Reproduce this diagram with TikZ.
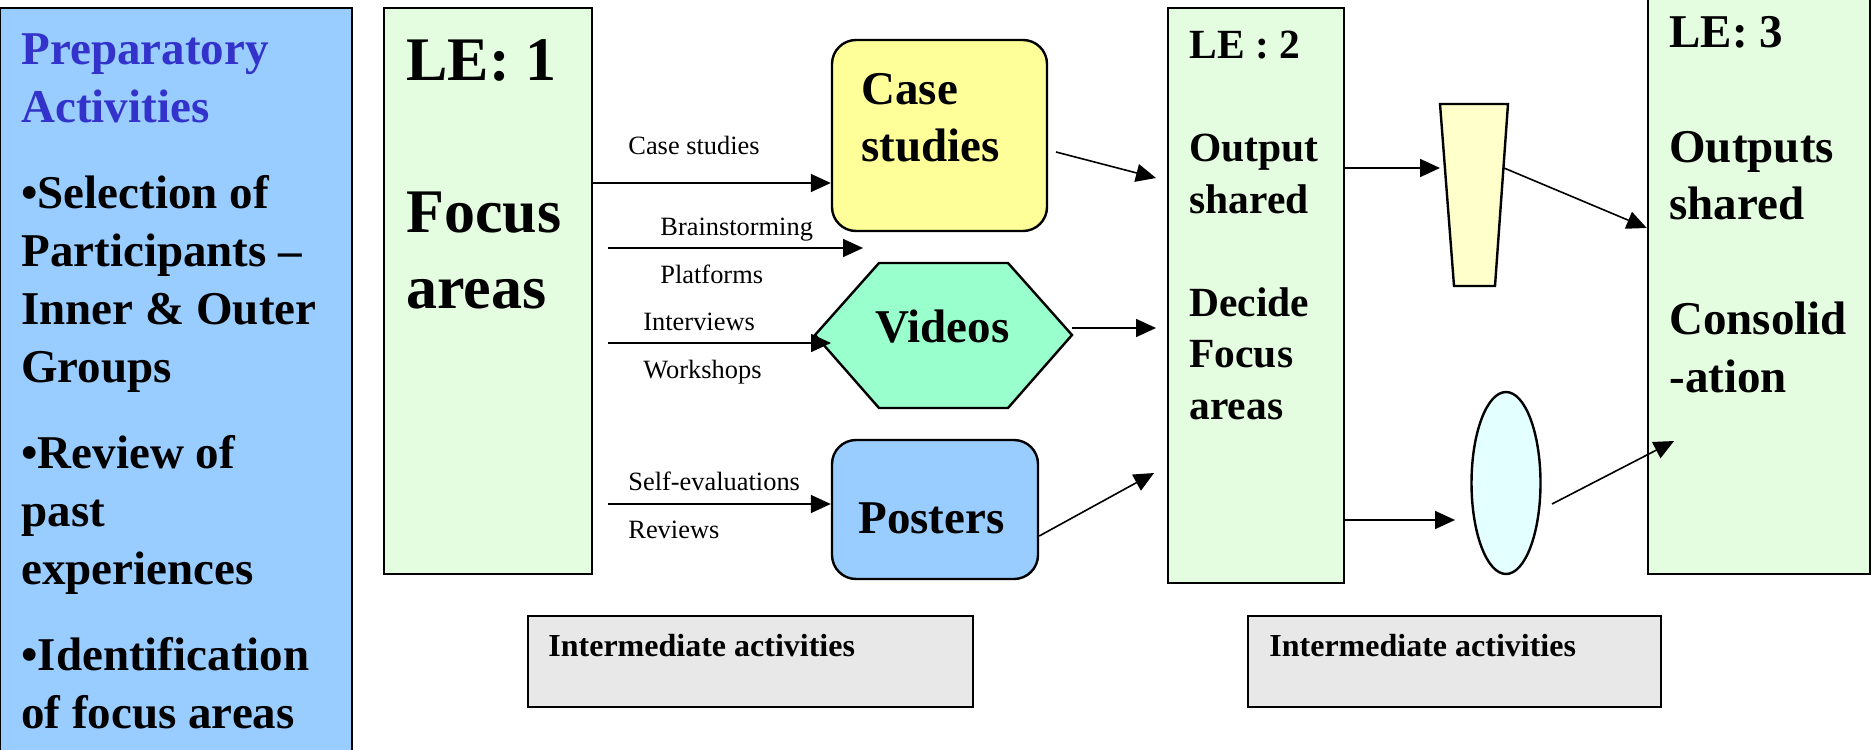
\documentclass[tikz,border=0pt]{standalone}
\usepackage{fontspec}
\setmainfont{Liberation Serif}
\usepackage{tikz}
\usetikzlibrary{arrows.meta,shapes.geometric,fit}

\definecolor{prepblue}{HTML}{99CCFF}
\definecolor{headblue}{HTML}{3333CC}
\definecolor{legreen}{RGB}{228,252,224}
\definecolor{caseyellow}{HTML}{FFFF99}
\definecolor{vidgreen}{HTML}{99FFCC}
\definecolor{trapyellow}{HTML}{FFFFCC}
\definecolor{ovalcyan}{HTML}{E3FFFF}
\definecolor{midgray}{HTML}{E8E8E8}

\tikzset{
  box/.style={draw,line width=1.2pt,inner sep=0pt},
  flow/.style={-{Triangle[length=10pt,width=9pt]},line width=0.8pt},
  txt/.style={anchor=base west,align=left,inner sep=0pt},
  lbl/.style={anchor=base west,inner sep=0pt,font=\fontsize{13.2}{15}\selectfont}
}

\begin{document}
\begin{tikzpicture}[x=0.5pt,y=-0.5pt]
        \useasboundingbox (0,0) rectangle (1872,749);
        % boxes
        \node[box,fill=prepblue,fit={(0,8) (352,760)}] (prep) {};
        \node[box,fill=legreen,fit={(384,8) (592,574)}] (le1) {};
        \node[box,fill=legreen,fit={(1168,8) (1344,583)}] (le2) {};
        \node[box,fill=legreen,fit={(1648,-5) (1870,574)}] (le3) {};
        \node[box,fill=caseyellow,rounded corners=12pt,fit={(832,40) (1047,231)}] (cs) {};
        \node[box,fill=prepblue,rounded corners=12pt,fit={(832,440) (1038,579)}] (post) {};
        \node[box,fill=midgray,fit={(528,616) (973,707)}] (mid1) {};
        \node[box,fill=midgray,fit={(1248,616) (1661,707)}] (mid2) {};
        \node[box,ellipse,fill=ovalcyan,minimum width=34.5pt,minimum height=91pt] (oval) at (1506,483) {};
        \coordinate (vidW) at (815,335);
        \coordinate (vidE) at (1072,335);
        \draw[line width=1.2pt,fill=vidgreen] (vidW) -- (879,263) -- (1008,263) -- (vidE) -- (1008,408) -- (879,408) -- cycle;
        \coordinate (trapNW) at (1440,104);
        \coordinate (trapNE) at (1508,104);
        \draw[line width=1.2pt,fill=trapyellow] (trapNW) -- (trapNE) -- (1495,286) -- (1454,286) -- cycle;

        % texts (placed by the baseline of their last line)
        \node[txt,text=headblue,font=\bfseries\fontsize{23.5}{29}\selectfont] (preptitle) at (21,123) {Preparatory\\Activities};
        \node[txt,font=\bfseries\fontsize{23.5}{29}\selectfont] (preplist) at (21,728)
            {\textbullet Selection of\\Participants –\\Inner \& Outer\\Groups\\[14pt]\textbullet Review of\\past\\experiences\\[14pt]\textbullet Identification\\of focus areas};
        \node[txt,font=\bfseries\fontsize{31}{38}\selectfont] (le1txt) at (406,308) {LE: 1\\[38pt]Focus\\areas};
        \node[txt,font=\bfseries\fontsize{20.75}{25.75}\selectfont] (le2txt) at (1189,419)
            {LE : 2\\[25.75pt]Output\\shared\\[25.75pt]Decide\\Focus\\areas};
        \node[txt,font=\bfseries\fontsize{23.5}{28.75}\selectfont] (le3txt) at (1669,392)
            {LE: 3\\[28.75pt]Outputs\\shared\\[28.75pt]Consolid\\-ation};
        \node[txt,font=\bfseries\fontsize{23.5}{28.5}\selectfont] (cstxt) at (861,162) {Case\\studies};
        \node[txt,font=\bfseries\fontsize{23.5}{28.5}\selectfont] (vidtxt) at (875,342) {Videos};
        \node[txt,font=\bfseries\fontsize{23.5}{28.5}\selectfont] (posttxt) at (858,533) {Posters};
        \node[txt,font=\bfseries\fontsize{16}{18}\selectfont] (mid1txt) at (548,656) {Intermediate activities};
        \node[txt,font=\bfseries\fontsize{16}{18}\selectfont] (mid2txt) at (1269,656) {Intermediate activities};

        % arrow labels
        \node[lbl] (lcase) at (628,155) {Case studies};
        \node[lbl] (lbrain) at (660,235) {Brainstorming};
        \node[lbl] (lplat) at (660,283) {Platforms};
        \node[lbl] (linter) at (643,330) {Interviews};
        \node[lbl] (lwork) at (643,378) {Workshops};
        \node[lbl] (lself) at (628,490) {Self-evaluations};
        \node[lbl] (lrev) at (628,538) {Reviews};

        % arrows
        \coordinate (bsW) at (608,248);
        \coordinate (bsE) at (863,248);
        \coordinate (ivW) at (608,343);
        \coordinate (ivE) at (831,343);
        \coordinate (csOut) at (1056,152);
        \coordinate (trapOut) at (1504,168);
        \coordinate (ovalIn) at (1455,520);
        \coordinate (ovalOut) at (1552,504);
        \coordinate (consol) at (1674,441);
        \draw[flow] (le1.east |- 0,183) -- (cs.west |- 0,183);
        \draw[flow] (bsW) -- (bsE);
        \draw[flow] (ivW) -- (ivE);
        \draw[flow] (ivW |- 0,504) -- (post.west |- 0,504);
        \draw[flow] (csOut) -- (1156,178);
        \draw[flow] (vidE |- 0,328) -- (1156,328);
        \draw[flow] (post.east |- 0,536) -- (1154,473);
        \draw[flow] (le2.east |- 0,168) -- (trapNW |- 0,168);
        \draw[flow] (trapOut) -- (le3.west |- 0,228);
        \draw[flow] (le2.east |- 0,520) -- (ovalIn);
        \draw[flow] (ovalOut) -- (consol);
\end{tikzpicture}
\end{document}
